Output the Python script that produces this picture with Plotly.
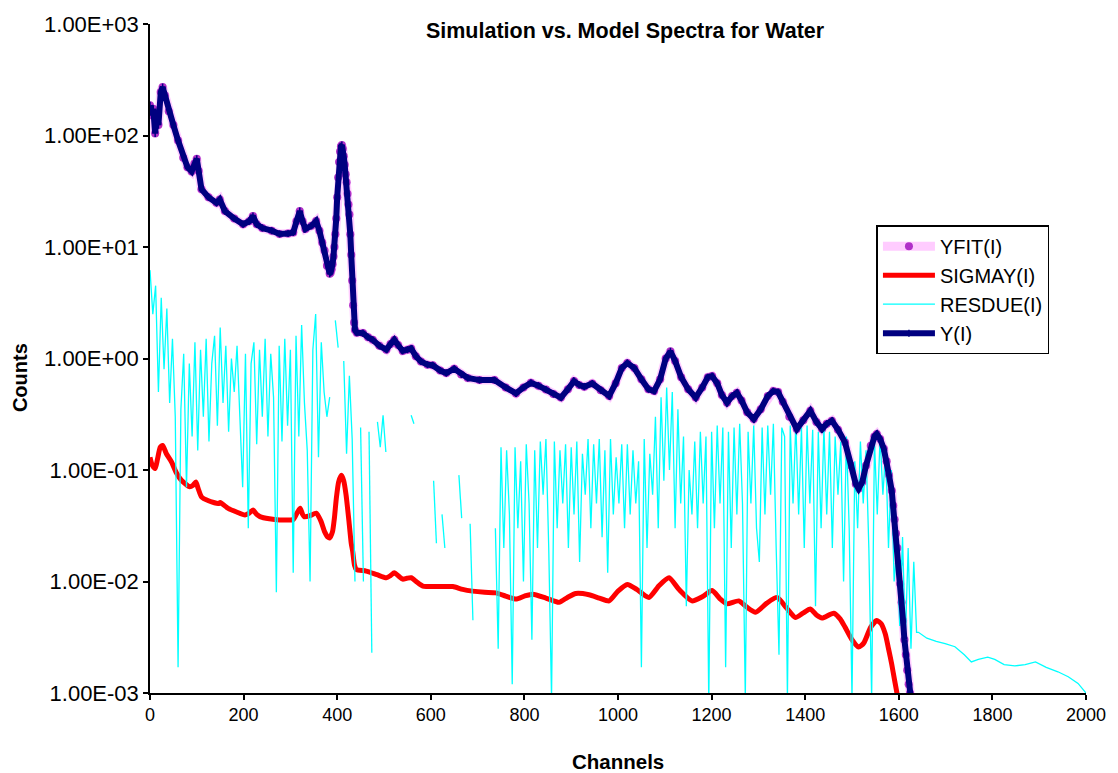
import plotly.graph_objects as go

# ---- Measured spectrum Y(I): channel / counts ----
y_channels = [
    0, 4, 7, 11, 14, 18, 23, 27, 32, 40,
    50, 60, 71, 80, 89, 95, 100, 104, 110, 125,
    142, 149, 160, 180, 199, 212, 220, 228, 240, 260,
    277, 295, 306, 313, 320, 326, 332, 345, 355, 362,
    368, 373, 378, 384, 386, 388, 390, 392, 394, 396,
    398, 400, 402, 404, 406, 408, 410, 412, 414, 416,
    418, 420, 422, 424, 426, 428, 430, 432, 434, 436,
    438, 442, 455, 466, 476, 490, 505, 514, 522, 530,
    540, 550, 558, 568, 579, 593, 604, 620, 633, 650,
    665, 679, 704, 736, 760, 782, 798, 814, 830, 846,
    862, 878, 893, 906, 917, 928, 945, 963, 981, 995,
    1008, 1020, 1035, 1050, 1065, 1077, 1090, 1102, 1112, 1122,
    1135, 1150, 1166, 1180, 1192, 1201, 1212, 1222, 1233, 1244,
    1254, 1264, 1276, 1290, 1305, 1320, 1332, 1342, 1352, 1366,
    1382, 1396, 1411, 1424, 1436, 1446, 1457, 1470, 1485, 1498,
    1508, 1514, 1522, 1530, 1540, 1548, 1553, 1560, 1568, 1574,
    1579, 1585, 1588, 1591, 1594, 1597, 1600, 1603, 1606, 1609,
    1612, 1615, 1618, 1621, 1624, 1627,
]
y_counts = [
    187, 152, 174, 104, 152, 124, 245, 272, 229, 165,
    124, 90, 63, 52, 47.6, 56, 62, 48, 33, 28,
    24.9, 26.7, 21, 18, 16, 17, 19, 16, 14.8, 14,
    13.1, 13.2, 13.5, 17, 21, 17, 14.5, 15.5, 17.1, 14,
    11, 9.3, 6.8, 5.75, 5.9, 6.3, 7.0, 8.2, 10, 13,
    18, 28, 42, 58, 72, 80, 82, 76, 65, 54.7,
    45, 38, 30, 24, 19.6, 13, 8.5, 5, 3, 2.1,
    1.8, 1.7, 1.69, 1.55, 1.47, 1.3, 1.2, 1.35, 1.47, 1.32,
    1.17, 1.2, 1.23, 1.05, 0.94, 0.88, 0.87, 0.78, 0.74, 0.81,
    0.72, 0.67, 0.64, 0.64, 0.55, 0.486, 0.55, 0.605, 0.57, 0.528,
    0.48, 0.446, 0.53, 0.627, 0.58, 0.558, 0.597, 0.52, 0.461, 0.6,
    0.82, 0.91, 0.82, 0.65, 0.53, 0.51, 0.65, 1.0, 1.16, 0.95,
    0.68, 0.53, 0.446, 0.55, 0.68, 0.695, 0.6, 0.47, 0.402, 0.46,
    0.493, 0.42, 0.33, 0.286, 0.35, 0.46, 0.51, 0.5, 0.41, 0.3,
    0.233, 0.28, 0.34, 0.27, 0.233, 0.26, 0.277, 0.23, 0.177, 0.11,
    0.075, 0.068, 0.078, 0.11, 0.165, 0.2, 0.21, 0.19, 0.155, 0.12,
    0.09, 0.065, 0.048, 0.036, 0.027, 0.02, 0.0145, 0.0095, 0.0065, 0.0045,
    0.003, 0.0022, 0.0016, 0.0012, 0.001, 0.0008,
]

# ---- Fitted model YFIT(I) (overlays the measured spectrum) ----
yfit_channels = y_channels
yfit_counts = y_counts

# ---- Uncertainty SIGMAY(I) ----
sig_channels = [
    0, 5, 11, 16, 22, 27, 35, 46, 56, 67,
    85, 92, 98, 103, 110, 125, 146, 150, 167, 185,
    203, 212, 220, 228, 235, 255, 277, 306, 314, 321,
    326, 330, 342, 355, 365, 373, 380, 384, 390, 394,
    398, 403, 409, 414, 419, 425, 430, 433, 437, 441,
    462, 485, 505, 514, 522, 531, 540, 549, 558, 570,
    583, 615, 647, 668, 689, 715, 739, 760, 782, 800,
    818, 846, 874, 892, 910, 938, 960, 981, 1000, 1020,
    1040, 1066, 1088, 1109, 1130, 1158, 1180, 1201, 1218, 1233,
    1258, 1275, 1294, 1318, 1340, 1360, 1379, 1395, 1411, 1424,
    1436, 1461, 1475, 1485, 1500, 1514, 1525, 1540, 1553, 1562,
    1571, 1578, 1585, 1591, 1596, 1600,
]
sig_counts = [
    0.13, 0.11, 0.103, 0.125, 0.16, 0.166, 0.14, 0.118, 0.095, 0.081,
    0.0706, 0.073, 0.078, 0.068, 0.0575, 0.053, 0.05, 0.051, 0.0453, 0.042,
    0.0395, 0.041, 0.0438, 0.04, 0.0382, 0.0365, 0.0357, 0.036, 0.041, 0.0453,
    0.04, 0.038, 0.039, 0.041, 0.035, 0.028, 0.025, 0.0246, 0.028, 0.037,
    0.055, 0.078, 0.0898, 0.08, 0.0596, 0.035, 0.022, 0.0187, 0.014, 0.0128,
    0.0124, 0.0115, 0.0108, 0.0113, 0.012, 0.0112, 0.0105, 0.0107, 0.0108, 0.0099,
    0.0091, 0.009, 0.009, 0.0085, 0.0082, 0.008, 0.0079, 0.0074, 0.00695, 0.0074,
    0.0077, 0.0071, 0.0065, 0.0072, 0.0078, 0.0076, 0.0071, 0.0067, 0.0082, 0.0094,
    0.0085, 0.0072, 0.0092, 0.0108, 0.0085, 0.0067, 0.0073, 0.0083, 0.007, 0.0063,
    0.0067, 0.0059, 0.0053, 0.0064, 0.0072, 0.0058, 0.00476, 0.0052, 0.00566, 0.005,
    0.0047, 0.0052, 0.0046, 0.0039, 0.003, 0.00258, 0.0028, 0.0039, 0.00446, 0.0042,
    0.0034, 0.0025, 0.0018, 0.0013, 0.001, 0.0008,
]

# ---- Residuals RESDUE(I): every 6th channel up to 1638 (None = non-positive) ----
res_channels = list(range(0, 1644, 6))
res_counts = [
    6.2, 2.5, 4.5, 0.5, 3.5, 0.8, 2.8, 0.4, 1.5, 0.3,
    0.0017, 0.35, 1.1, 0.07, 0.9, 0.2, 1.4, 0.15, 1.2, 0.3,
    1.5, 0.18, 0.9, 1.6, 0.25, 1.9, 0.4, 1.3, 0.22, 1.0,
    0.5, 1.3, 0.3, 0.07, 1.1, 0.03, 0.9, 1.4, 0.17, 1.2,
    0.3, 1.5, 0.2, 1.1, 0.45, 0.008, 1.3, 0.18, 1.5, 0.25,
    1.2, 0.012, 1.6, 0.2, 2.0, 0.4, 0.15, 0.01, 1.2, 2.5,
    0.13, 1.4, 0.5, 0.3, 0.45, None, 2.2, 1.25, None, 0.95,
    0.14, 0.7, 0.19, 0.01, None, 0.24, 0.01, None, 0.22, 0.0023,
    None, 0.27, 0.16, 0.31, 0.145, None, None, None, None, None,
    None, None, None, 0.31, 0.26, None, None, None, None, None,
    None, 0.08, 0.022, None, 0.04, 0.02, None, None, None, None,
    0.09, 0.037, None, None, 0.033, 0.0045, None, None, None, None,
    None, None, None, 0.03, 0.0025, 0.16, 0.02, 0.15, 0.04, 0.0012,
    0.16, 0.03, 0.12, 0.01, 0.17, 0.05, 0.003, 0.15, 0.02, 0.18,
    0.06, 0.19, 0.02, 0.0009, 0.18, 0.03, 0.15, 0.05, 0.17, 0.02,
    0.16, 0.04, 0.18, 0.015, 0.14, 0.06, 0.19, 0.03, 0.17, 0.05,
    0.19, 0.025, 0.15, 0.012, 0.19, 0.04, 0.13, 0.05, 0.17, 0.03,
    0.17, 0.04, 0.15, 0.05, 0.12, 0.0017, 0.19, 0.02, 0.14, 0.06,
    0.3, 0.03, 0.45, 0.08, 0.55, 0.1, 0.5, 0.03, 0.35, 0.05,
    0.2, 0.006, 0.1, 0.04, 0.18, 0.03, 0.22, 0.05, 0.2, 0.0008,
    0.22, 0.03, 0.25, 0.05, 0.24, 0.0017, 0.22, 0.02, 0.24, 0.04,
    0.26, 0.05, 0.0009, 0.22, 0.05, 0.25, 0.03, 0.015, 0.24, 0.04,
    0.25, 0.06, 0.26, 0.02, 0.0022, 0.24, 0.2, 0.0009, 0.25, 0.05,
    0.26, 0.04, 0.24, 0.02, 0.25, 0.05, 0.23, 0.006, 0.22, 0.03,
    0.24, 0.04, 0.22, 0.02, 0.2, 0.06, 0.18, 0.01, 0.2, 0.03,
    0.0009, 0.12, 0.03, 0.18, 0.05, 0.15, 0.02, 0.0009, 0.18, 0.04,
    0.2, 0.06, 0.15, 0.02, 0.1, 0.01, 0.02, 0.004, 0.025, 0.003,
    0.02, 0.0025, 0.015, 0.0035,
]
# smooth residual tail beyond the spectrum end
res_tail_channels = [1642, 1660, 1680, 1699, 1720, 1740, 1755, 1770, 1790, 1805,
                     1825, 1848, 1870, 1892, 1915, 1940, 1962, 1983, 2000]
res_tail_counts = [0.0035, 0.0031, 0.0029, 0.00277, 0.0026, 0.0022, 0.0019, 0.002, 0.0021, 0.002,
                   0.0018, 0.00175, 0.0018, 0.0019, 0.0017, 0.00155, 0.0014, 0.00122, 0.001]

# ---- Axis ticks ----
x_ticks = [0, 200, 400, 600, 800, 1000, 1200, 1400, 1600, 1800, 2000]
y_tick_vals = [1e-3, 1e-2, 1e-1, 1e0, 1e1, 1e2, 1e3]
y_tick_text = ["1.00E-03", "1.00E-02", "1.00E-01", "1.00E+00",
               "1.00E+01", "1.00E+02", "1.00E+03"]

FONT = "Liberation Sans, Arial, sans-serif"

fig = go.Figure()

# fitted model: pale halo line with markers
fig.add_trace(go.Scatter(
    x=yfit_channels, y=yfit_counts, name="YFIT(I)", mode="lines+markers",
    line=dict(color="#FFCCFF", width=9),
    marker=dict(color="#B030C8", size=8, symbol="circle"),
))
fig.add_trace(go.Scatter(
    x=sig_channels, y=sig_counts, name="SIGMAY(I)", mode="lines",
    line=dict(color="#FF0000", width=5, shape="spline", smoothing=0.6),
))
fig.add_trace(go.Scatter(
    x=res_channels + res_tail_channels, y=res_counts + res_tail_counts,
    name="RESDUE(I)", mode="lines", connectgaps=False,
    line=dict(color="#00FFFF", width=1.3),
))
fig.add_trace(go.Scatter(
    x=y_channels, y=y_counts, name="Y(I)", mode="lines+markers",
    line=dict(color="#000080", width=6),
    marker=dict(symbol="line-ns", size=5, color="#000080",
                line=dict(color="#000080", width=1.5)),
))

fig.update_layout(
    width=1118, height=773, autosize=False,
    margin=dict(l=150, r=30, t=18, b=80),
    paper_bgcolor="white", plot_bgcolor="white",
    font=dict(family=FONT, color="black", size=18),
    title=dict(text="Simulation vs. Model Spectra for Water",
               font=dict(family=FONT, size=21.5, weight="bold"),
               x=0.5075, xref="paper", xanchor="center",
               y=1 - 30 / 773, yref="container", yanchor="middle"),
    showlegend=True,
    legend=dict(x=(878 - 150) / 938, y=(693 - 221) / 675,
                xanchor="left", yanchor="top",
                bgcolor="white", bordercolor="black", borderwidth=1.5,
                font=dict(family=FONT, size=20),
                tracegroupgap=0, itemwidth=52),
    xaxis=dict(range=[0, 2000], tickvals=x_ticks,
               showline=True, linecolor="black", linewidth=1.5,
               ticks="outside", ticklen=5, tickcolor="black", tickwidth=1.5,
               showgrid=False, zeroline=False, mirror=False,
               tickfont=dict(family=FONT, size=18)),
    yaxis=dict(type="log", range=[-3, 3],
               tickvals=y_tick_vals, ticktext=y_tick_text,
               showline=True, linecolor="black", linewidth=1.5,
               ticks="outside", ticklen=5, tickcolor="black", tickwidth=1.5,
               showgrid=False, zeroline=False, mirror=False,
               tickfont=dict(family=FONT, size=22)),
    annotations=[
        dict(text="<b>Channels</b>", xref="paper", yref="paper",
             x=0.5, y=(693 - 762) / 675, xanchor="center", yanchor="middle",
             showarrow=False, font=dict(family=FONT, size=20.5)),
        dict(text="<b>Counts</b>", xref="paper", yref="paper",
             x=(20 - 150) / 938, y=(693 - 375) / 675, xanchor="center",
             yanchor="middle", textangle=-90, showarrow=False,
             font=dict(family=FONT, size=20)),
    ],
)

fig.write_html("out.html")
